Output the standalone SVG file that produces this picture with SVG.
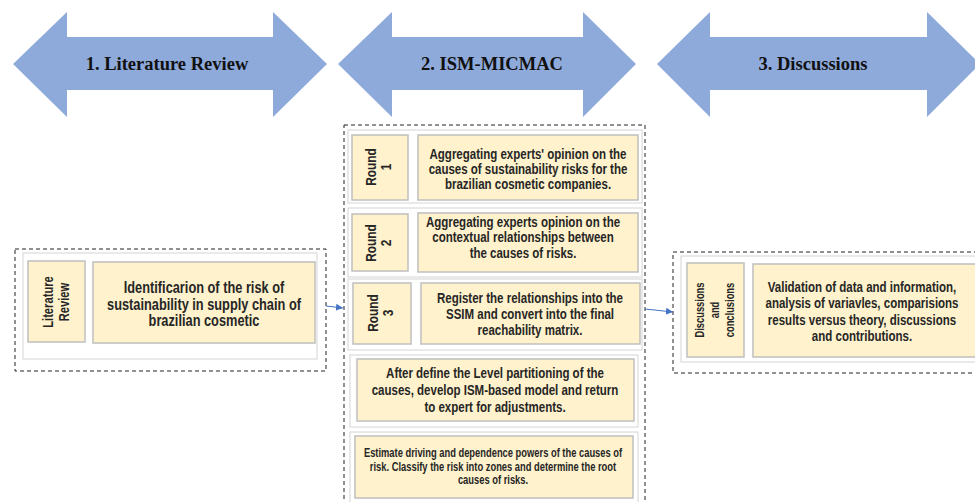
<svg xmlns="http://www.w3.org/2000/svg" width="975" height="502" viewBox="0 0 975 502">
<style>
.big{fill:#8eaadb}
.ht{font-family:"Liberation Serif","Times New Roman",serif;font-weight:bold;font-size:18.5px;fill:#111;text-anchor:middle}
.dash{fill:none;stroke:#222;stroke-width:1;stroke-dasharray:4,3}
.lite{fill:#fff;stroke:#d4d4d4;stroke-width:1}
.tan{fill:#fff2cc;stroke:#bfbfbf;stroke-width:1.5}
.t{font-family:"Liberation Sans Narrow","Liberation Sans",Arial,sans-serif;font-weight:bold;font-size:14.4px;fill:#262626;text-anchor:middle}
.r{font-size:14px}
.s{font-size:12px}
.l{font-size:16px}
.d{font-size:12px}
.conn{stroke:#4472c4;stroke-width:1;fill:none}
</style>
<defs>
<marker id="ah" markerWidth="8" markerHeight="8" refX="7" refY="4" orient="auto" markerUnits="userSpaceOnUse">
<path d="M0,0.5 L7,4 L0,7.5 Z" fill="#4472c4"/>
</marker>
</defs>
<g id="phase1">
<path class="big" d="M13,64 L67,12 L67,37 L273,37 L273,12 L327,64 L273,117 L273,90 L67,90 L67,117 Z"/>
<text class="ht" x="167" y="70">1. Literature Review</text>
</g>
<g id="phase2">
<path class="big" d="M338,64 L392,12 L392,37 L583,37 L583,12 L636,64 L583,117 L583,90 L392,90 L392,117 Z"/>
<text class="ht" x="492" y="70">2. ISM-MICMAC</text>
</g>
<g id="phase3">
<path class="big" d="M657,64 L710,12 L710,37 L927,37 L927,12 L980,64 L927,117 L927,90 L710,90 L710,117 Z"/>
<text class="ht" x="813" y="70">3. Discussions</text>
</g>
<g id="literature">
<rect class="dash" x="15" y="249" width="311" height="122"/>
<rect class="lite" x="23" y="253" width="294" height="106"/>
<rect class="tan" x="28" y="261" width="57" height="81"/>
<text class="t r" transform="translate(56,302) rotate(-90) scale(0.8,1)"><tspan x="0" y="-3">Literature</tspan><tspan x="0" y="13">Review</tspan></text>
<rect class="tan" x="93" y="262" width="222" height="81"/>
<text class="t l" transform="translate(204,0) scale(0.8,1)"><tspan x="0" y="293">Identificarion of the risk of</tspan><tspan x="0" y="310">sustainability in supply chain of</tspan><tspan x="0" y="326">brazilian cosmetic</tspan></text>
</g>
<g id="ism">
<rect class="dash" x="344" y="125" width="301" height="390"/>
</g>
<g id="round1">
<rect class="lite" x="348" y="130" width="294" height="73"/>
<rect class="tan" x="352" y="135" width="56" height="65"/>
<text class="t r" transform="translate(379,167) rotate(-90) scale(0.85,1)"><tspan x="0" y="-3">Round</tspan><tspan x="0" y="12">1</tspan></text>
<rect class="tan" x="418" y="135" width="220" height="65"/>
<text class="t" transform="translate(528,0) scale(0.8,1)"><tspan x="0" y="159">Aggregating experts' opinion on the</tspan><tspan x="0" y="174">causes of sustainability risks  for the</tspan><tspan x="0" y="189">brazilian cosmetic  companies.</tspan></text>
</g>
<g id="round2">
<rect class="lite" x="348" y="208" width="294" height="69"/>
<rect class="tan" x="352" y="214" width="56" height="57"/>
<text class="t r" transform="translate(379,243) rotate(-90) scale(0.85,1)"><tspan x="0" y="-3">Round</tspan><tspan x="0" y="12">2</tspan></text>
<rect class="tan" x="418" y="213" width="220" height="59"/>
<text class="t" transform="translate(523,0) scale(0.8,1)"><tspan x="0" y="227">Aggregating experts opinion on the</tspan><tspan x="0" y="242">contextual relationships between</tspan><tspan x="0" y="258">the causes  of risks.</tspan></text>
</g>
<g id="round3">
<rect class="lite" x="348" y="279" width="294" height="71"/>
<rect class="tan" x="353" y="283" width="58" height="61"/>
<text class="t r" transform="translate(381,313) rotate(-90) scale(0.85,1)"><tspan x="0" y="-3">Round</tspan><tspan x="0" y="12">3</tspan></text>
<rect class="tan" x="421" y="283" width="219" height="61"/>
<text class="t" transform="translate(530,0) scale(0.8,1)"><tspan x="0" y="303">Register the relationships into the</tspan><tspan x="0" y="319">SSIM and convert into the final</tspan><tspan x="0" y="335">reachability matrix.</tspan></text>
</g>
<g id="levels">
<rect class="lite" x="350" y="355" width="288" height="72"/>
<rect class="tan" x="357" y="359" width="277" height="62"/>
<text class="t" transform="translate(495,0) scale(0.8,1)"><tspan x="0" y="378">After define the Level partitioning of the</tspan><tspan x="0" y="395">causes, develop ISM-based model and return</tspan><tspan x="0" y="412">to expert for adjustments.</tspan></text>
</g>
<g id="micmac">
<rect class="lite" x="350" y="432" width="288" height="80"/>
<rect class="tan" x="355" y="436" width="278" height="62"/>
<text class="t s" transform="translate(493,0) scale(0.78,1)"><tspan x="0" y="457">Estimate driving and dependence powers of the causes of</tspan><tspan x="0" y="471">risk. Classify the risk into zones and determine the root</tspan><tspan x="0" y="484">causes of risks.</tspan></text>
</g>
<g id="discussions">
<rect class="dash" x="673" y="252" width="320" height="121"/>
<rect class="lite" x="681" y="256" width="310" height="106"/>
<rect class="tan" x="687" y="263" width="57" height="94"/>
<text class="t d" transform="translate(715,310) rotate(-90) scale(0.78,1)"><tspan x="0" y="-11">Discussions</tspan><tspan x="0" y="4">and</tspan><tspan x="0" y="19">conclusions</tspan></text>
<rect class="tan" x="753" y="264" width="240" height="93"/>
<text class="t" transform="translate(862,0) scale(0.8,1)"><tspan x="0" y="292">Validation of data and information,</tspan><tspan x="0" y="308">analysis of variavles, comparisions</tspan><tspan x="0" y="325">results versus theory, discussions</tspan><tspan x="0" y="341">and contributions.</tspan></text>
</g>
<g id="connectors">
<path class="conn" d="M326,306 L343,308" marker-end="url(#ah)"/>
<path class="conn" d="M645,309 L673,312" marker-end="url(#ah)"/>
</g>
</svg>
